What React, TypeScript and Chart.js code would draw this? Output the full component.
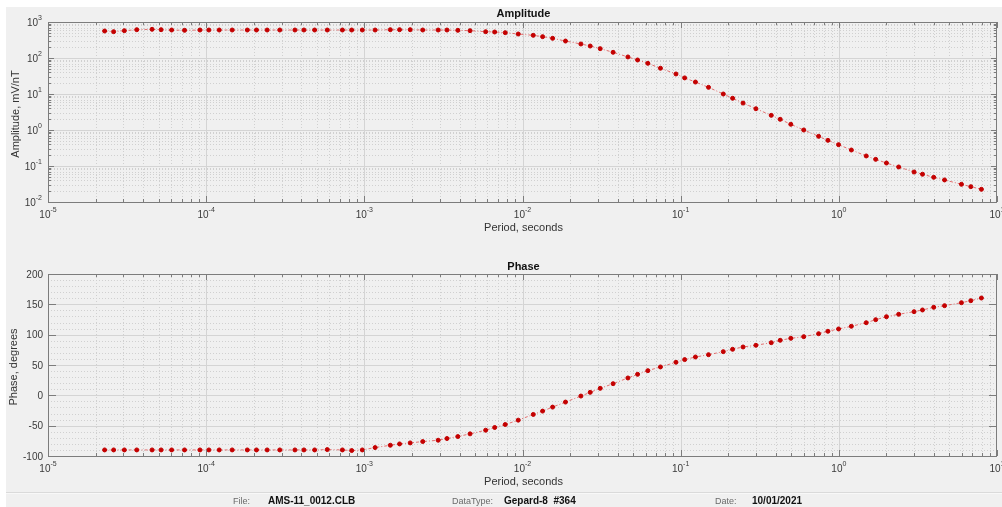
import React, { useEffect, useRef } from 'react';
import { Chart, registerables } from 'chart.js';

Chart.register(...registerables);

const FONT = '"Liberation Sans", Arial, Helvetica, sans-serif';

// Period (seconds) of each measurement
const periods = [
  2.28e-5, 2.60e-5, 3.04e-5, 3.64e-5, 4.55e-5, 5.19e-5, 6.05e-5, 7.30e-5, 9.13e-5, 1.04e-4,
  1.21e-4, 1.46e-4, 1.82e-4, 2.08e-4, 2.43e-4, 2.92e-4, 3.64e-4, 4.15e-4, 4.85e-4, 5.83e-4,
  7.27e-4, 8.32e-4, 9.71e-4, 1.17e-3, 1.46e-3, 1.67e-3, 1.95e-3, 2.34e-3, 2.93e-3, 3.33e-3,
  3.90e-3, 4.66e-3, 5.85e-3, 6.67e-3, 7.78e-3, 9.40e-3, 1.17e-2, 1.34e-2, 1.55e-2, 1.87e-2,
  2.34e-2, 2.68e-2, 3.10e-2, 3.74e-2, 4.64e-2, 5.34e-2, 6.20e-2, 7.45e-2, 9.34e-2, 0.106,
  0.124, 0.150, 0.186, 0.213, 0.248, 0.299, 0.374, 0.426, 0.497, 0.600,
  0.745, 0.853, 0.996, 1.20, 1.49, 1.71, 2.00, 2.39, 2.99, 3.38,
  3.98, 4.66, 5.96, 6.83, 7.97,
];

// Amplitude, mV/nT
const amplitude = [
  562, 539, 574, 612, 626, 612, 599, 587, 599, 599,
  599, 599, 599, 599, 599, 599, 599, 599, 599, 599,
  599, 599, 599, 599, 612, 612, 612, 599, 599, 599,
  587, 574, 538, 527, 506, 464, 426, 392, 352, 296,
  245, 215, 182, 144, 107, 88, 71, 52, 36, 28,
  21.5, 15.3, 10, 7.6, 5.6, 3.9, 2.55, 1.98, 1.44, 1.0,
  0.667, 0.516, 0.392, 0.278, 0.19, 0.153, 0.121, 0.094, 0.068, 0.059,
  0.0485, 0.041, 0.031, 0.0267, 0.0225,
];

// Phase, degrees
const phase = [
  -90, -90, -90, -90, -90, -90, -90, -90, -90, -90,
  -90, -90, -90, -90, -90, -90, -90, -90, -90, -89.4,
  -90, -91, -90, -86.1, -82.3, -80.1, -78.4, -76.2, -74.0, -71.2,
  -67.9, -63.5, -57.5, -53.0, -48.1, -40.9, -31.5, -26.0, -19.4, -11.1,
  -1.2, 4.9, 11.5, 19.2, 28.6, 34.6, 40.7, 46.8, 54.5, 58.9,
  63.2, 67.0, 72.0, 75.9, 79.7, 82.5, 86.8, 90.7, 94.0, 96.7,
  101.6, 105.6, 109.4, 113.8, 119.7, 124.7, 129.6, 133.6, 137.9, 140.7,
  145.1, 147.8, 152.7, 156.0, 160.4,
];

// Tick labels
const periodDecades = [-5, -4, -3, -2, -1, 0, 1];
const amplitudeDecades = [-2, -1, 0, 1, 2, 3];
const phaseTicks = [-100, -50, 0, 50, 100, 150, 200];
const phaseMinorStep = 10;

const footerItems = [
  { label: 'File:', value: 'AMS-11_0012.CLB', lx: 233, vx: 268 },
  { label: 'DataType:', value: 'Gepard-8  #364', lx: 452, vx: 504 },
  { label: 'Date:', value: '10/01/2021', lx: 715, vx: 752 },
];

type FrameCfg = {
  title: string;
  yTitle: string;
  yLog: boolean;
  yDecades?: number[];
  yTicks?: number[];
  titleY: number;
  yTitleX: number;
};

function drawPow(ctx: CanvasRenderingContext2D, exp: number, x: number, y: number, align: 'center' | 'right') {
  const base = '10';
  const e = String(exp);
  ctx.font = `10px ${FONT}`;
  const wb = ctx.measureText(base).width;
  ctx.font = `7px ${FONT}`;
  const we = ctx.measureText(e).width;
  const total = wb + we;
  const x0 = align === 'center' ? x - total / 2 : x - total;
  ctx.textAlign = 'left';
  ctx.textBaseline = 'middle';
  ctx.font = `10px ${FONT}`;
  ctx.fillText(base, x0, y);
  ctx.font = `7px ${FONT}`;
  ctx.fillText(e, x0 + wb, y - 5);
}

function makeFramePlugin(cfg: FrameCfg) {
  return {
    id: 'matlabFrame',
    beforeDatasetsDraw(chart: any) {
      const { ctx, chartArea } = chart;
      const { left, right, top, bottom } = chartArea;
      const xs = chart.scales.x;
      const ys = chart.scales.y;
      ctx.save();
      ctx.fillStyle = '#f0f0f0';
      ctx.fillRect(left, top, right - left, bottom - top);

      // minor grid
      ctx.strokeStyle = '#d0d0d0';
      ctx.lineWidth = 1;
      ctx.setLineDash([1, 2]);
      ctx.beginPath();
      for (let i = 0; i < periodDecades.length - 1; i++) {
        const d = Math.pow(10, periodDecades[i]);
        for (let m = 2; m <= 9; m++) {
          const px = Math.round(xs.getPixelForValue(m * d)) + 0.5;
          ctx.moveTo(px, top);
          ctx.lineTo(px, bottom);
        }
      }
      if (cfg.yLog && cfg.yDecades) {
        for (let i = 0; i < cfg.yDecades.length - 1; i++) {
          const d = Math.pow(10, cfg.yDecades[i]);
          for (let m = 2; m <= 9; m++) {
            const py = Math.round(ys.getPixelForValue(m * d)) + 0.5;
            ctx.moveTo(left, py);
            ctx.lineTo(right, py);
          }
        }
      } else if (cfg.yTicks) {
        const t = cfg.yTicks;
        for (let v = t[0]; v < t[t.length - 1]; v += phaseMinorStep) {
          if (t.includes(v)) continue;
          const py = Math.round(ys.getPixelForValue(v)) + 0.5;
          ctx.moveTo(left, py);
          ctx.lineTo(right, py);
        }
      }
      ctx.stroke();

      // major grid
      ctx.setLineDash([]);
      ctx.strokeStyle = '#d4d4d4';
      ctx.beginPath();
      for (let i = 1; i < periodDecades.length - 1; i++) {
        const px = Math.round(xs.getPixelForValue(Math.pow(10, periodDecades[i]))) + 0.5;
        ctx.moveTo(px, top);
        ctx.lineTo(px, bottom);
      }
      if (cfg.yLog && cfg.yDecades) {
        for (let i = 1; i < cfg.yDecades.length - 1; i++) {
          const py = Math.round(ys.getPixelForValue(Math.pow(10, cfg.yDecades[i]))) + 0.5;
          ctx.moveTo(left, py);
          ctx.lineTo(right, py);
        }
      } else if (cfg.yTicks) {
        for (let i = 1; i < cfg.yTicks.length - 1; i++) {
          const py = Math.round(ys.getPixelForValue(cfg.yTicks[i])) + 0.5;
          ctx.moveTo(left, py);
          ctx.lineTo(right, py);
        }
      }
      ctx.stroke();
      ctx.restore();
    },
    afterDatasetsDraw(chart: any) {
      const { ctx, chartArea } = chart;
      const { left, right, top, bottom } = chartArea;
      const xs = chart.scales.x;
      const ys = chart.scales.y;
      ctx.save();
      ctx.strokeStyle = '#7c7c7c';
      ctx.lineWidth = 1;
      ctx.setLineDash([]);
      ctx.beginPath();
      // x ticks
      for (let i = 0; i < periodDecades.length; i++) {
        const d = Math.pow(10, periodDecades[i]);
        const major = Math.round(xs.getPixelForValue(d)) + 0.5;
        ctx.moveTo(major, bottom); ctx.lineTo(major, bottom - 6);
        ctx.moveTo(major, top); ctx.lineTo(major, top + 6);
        if (i < periodDecades.length - 1) {
          for (let m = 2; m <= 9; m++) {
            const px = Math.round(xs.getPixelForValue(m * d)) + 0.5;
            ctx.moveTo(px, bottom); ctx.lineTo(px, bottom - 3);
            ctx.moveTo(px, top); ctx.lineTo(px, top + 3);
          }
        }
      }
      // y ticks
      if (cfg.yLog && cfg.yDecades) {
        for (let i = 0; i < cfg.yDecades.length; i++) {
          const d = Math.pow(10, cfg.yDecades[i]);
          const py = Math.round(ys.getPixelForValue(d)) + 0.5;
          ctx.moveTo(left, py); ctx.lineTo(left + 6, py);
          ctx.moveTo(right, py); ctx.lineTo(right - 6, py);
          if (i < cfg.yDecades.length - 1) {
            for (let m = 2; m <= 9; m++) {
              const pm = Math.round(ys.getPixelForValue(m * d)) + 0.5;
              ctx.moveTo(left, pm); ctx.lineTo(left + 3, pm);
              ctx.moveTo(right, pm); ctx.lineTo(right - 3, pm);
            }
          }
        }
      } else if (cfg.yTicks) {
        for (const v of cfg.yTicks) {
          const py = Math.round(ys.getPixelForValue(v)) + 0.5;
          ctx.moveTo(left, py); ctx.lineTo(left + 8, py);
          ctx.moveTo(right, py); ctx.lineTo(right - 8, py);
        }
      }
      ctx.stroke();
      // box
      ctx.strokeRect(Math.round(left) + 0.5, Math.round(top) + 0.5, Math.round(right - left) - 1, Math.round(bottom - top));

      // tick labels
      ctx.fillStyle = '#3a3a3a';
      for (const e of periodDecades) {
        drawPow(ctx, e, xs.getPixelForValue(Math.pow(10, e)), bottom + 13, 'center');
      }
      if (cfg.yLog && cfg.yDecades) {
        for (const e of cfg.yDecades) {
          drawPow(ctx, e, left - 6, ys.getPixelForValue(Math.pow(10, e)) + 1, 'right');
        }
      } else if (cfg.yTicks) {
        ctx.font = `10px ${FONT}`;
        ctx.textAlign = 'right';
        ctx.textBaseline = 'middle';
        for (const v of cfg.yTicks) {
          ctx.fillText(String(v), left - 5, ys.getPixelForValue(v) + 1);
        }
      }

      // axis titles
      ctx.fillStyle = '#333333';
      ctx.font = `11px ${FONT}`;
      ctx.textAlign = 'center';
      ctx.textBaseline = 'middle';
      const cx = (left + right) / 2 + 1;
      ctx.fillText('Period, seconds', cx, bottom + 26);
      ctx.save();
      ctx.translate(cfg.yTitleX, (top + bottom) / 2 + 2);
      ctx.rotate(-Math.PI / 2);
      ctx.fillText(cfg.yTitle, 0, 0);
      ctx.restore();

      // plot title
      ctx.fillStyle = '#111111';
      ctx.font = `bold 11px ${FONT}`;
      ctx.fillText(cfg.title, cx, cfg.titleY);
      ctx.restore();
    },
  };
}

function buildConfig(values: number[], yScale: any, padding: any, cfg: FrameCfg): any {
  return {
    type: 'line',
    data: {
      datasets: [
        {
          data: periods.map((p, i) => ({ x: p, y: values[i] })),
          borderColor: 'rgba(222, 70, 70, 0.75)',
          borderWidth: 1,
          borderDash: [3, 2, 1, 2],
          pointRadius: 2,
          pointBorderWidth: 1,
          pointBackgroundColor: '#c40000',
          pointBorderColor: '#c40000',
          fill: false,
          tension: 0,
        },
      ],
    },
    options: {
      responsive: false,
      maintainAspectRatio: false,
      animation: false,
      events: [],
      layout: { padding },
      plugins: { legend: { display: false }, tooltip: { enabled: false }, title: { display: false } },
      scales: {
        x: { type: 'logarithmic', min: 1e-5, max: 10, display: false },
        y: { ...yScale, display: false },
      },
    },
    plugins: [makeFramePlugin(cfg)],
  };
}

export default function App() {
  const ampRef = useRef<HTMLCanvasElement>(null);
  const phRef = useRef<HTMLCanvasElement>(null);

  useEffect(() => {
    const c1 = new Chart(
      ampRef.current as HTMLCanvasElement,
      buildConfig(
        amplitude,
        { type: 'logarithmic', min: 0.01, max: 1000 },
        { left: 48, right: 1, top: 22, bottom: 48 },
        { title: 'Amplitude', yTitle: 'Amplitude, mV/nT', yLog: true, yDecades: amplitudeDecades, titleY: 14, yTitleX: 16 }
      )
    );
    const c2 = new Chart(
      phRef.current as HTMLCanvasElement,
      buildConfig(
        phase,
        { type: 'linear', min: -100, max: 200 },
        { left: 48, right: 1, top: 24, bottom: 51 },
        { title: 'Phase', yTitle: 'Phase, degrees', yLog: false, yTicks: phaseTicks, titleY: 17, yTitleX: 14 }
      )
    );
    return () => {
      c1.destroy();
      c2.destroy();
    };
  }, []);

  return (
    <div style={{ position: 'absolute', left: 0, top: 0, width: 1002, height: 507, background: '#ffffff', overflow: 'hidden', fontFamily: FONT }}>
      <div style={{ position: 'absolute', left: 6, top: 7, width: 996, height: 500, background: '#f0f0f0' }} />
      <div style={{ position: 'absolute', left: 6, top: 492, width: 996, height: 1, background: '#dadada' }} />
      <div style={{ position: 'absolute', left: 6, top: 493, width: 996, height: 1, background: '#f8f8f8' }} />
      <canvas ref={ampRef} width={1002} height={250} style={{ position: 'absolute', left: 0, top: 0, width: 1002, height: 250 }} />
      <canvas ref={phRef} width={1002} height={257} style={{ position: 'absolute', left: 0, top: 250, width: 1002, height: 257 }} />
      {footerItems.map((f) => (
        <div
          key={f.label}
          style={{ position: 'absolute', left: f.lx, top: 495, height: 12, lineHeight: '12px', display: 'flex', alignItems: 'baseline', whiteSpace: 'pre' }}
        >
          <span style={{ width: f.vx - f.lx, fontSize: 9, color: '#6a6a6a' }}>{f.label}</span>
          <span style={{ fontSize: 10, fontWeight: 'bold', color: '#111' }}>{f.value}</span>
        </div>
      ))}
    </div>
  );
}
